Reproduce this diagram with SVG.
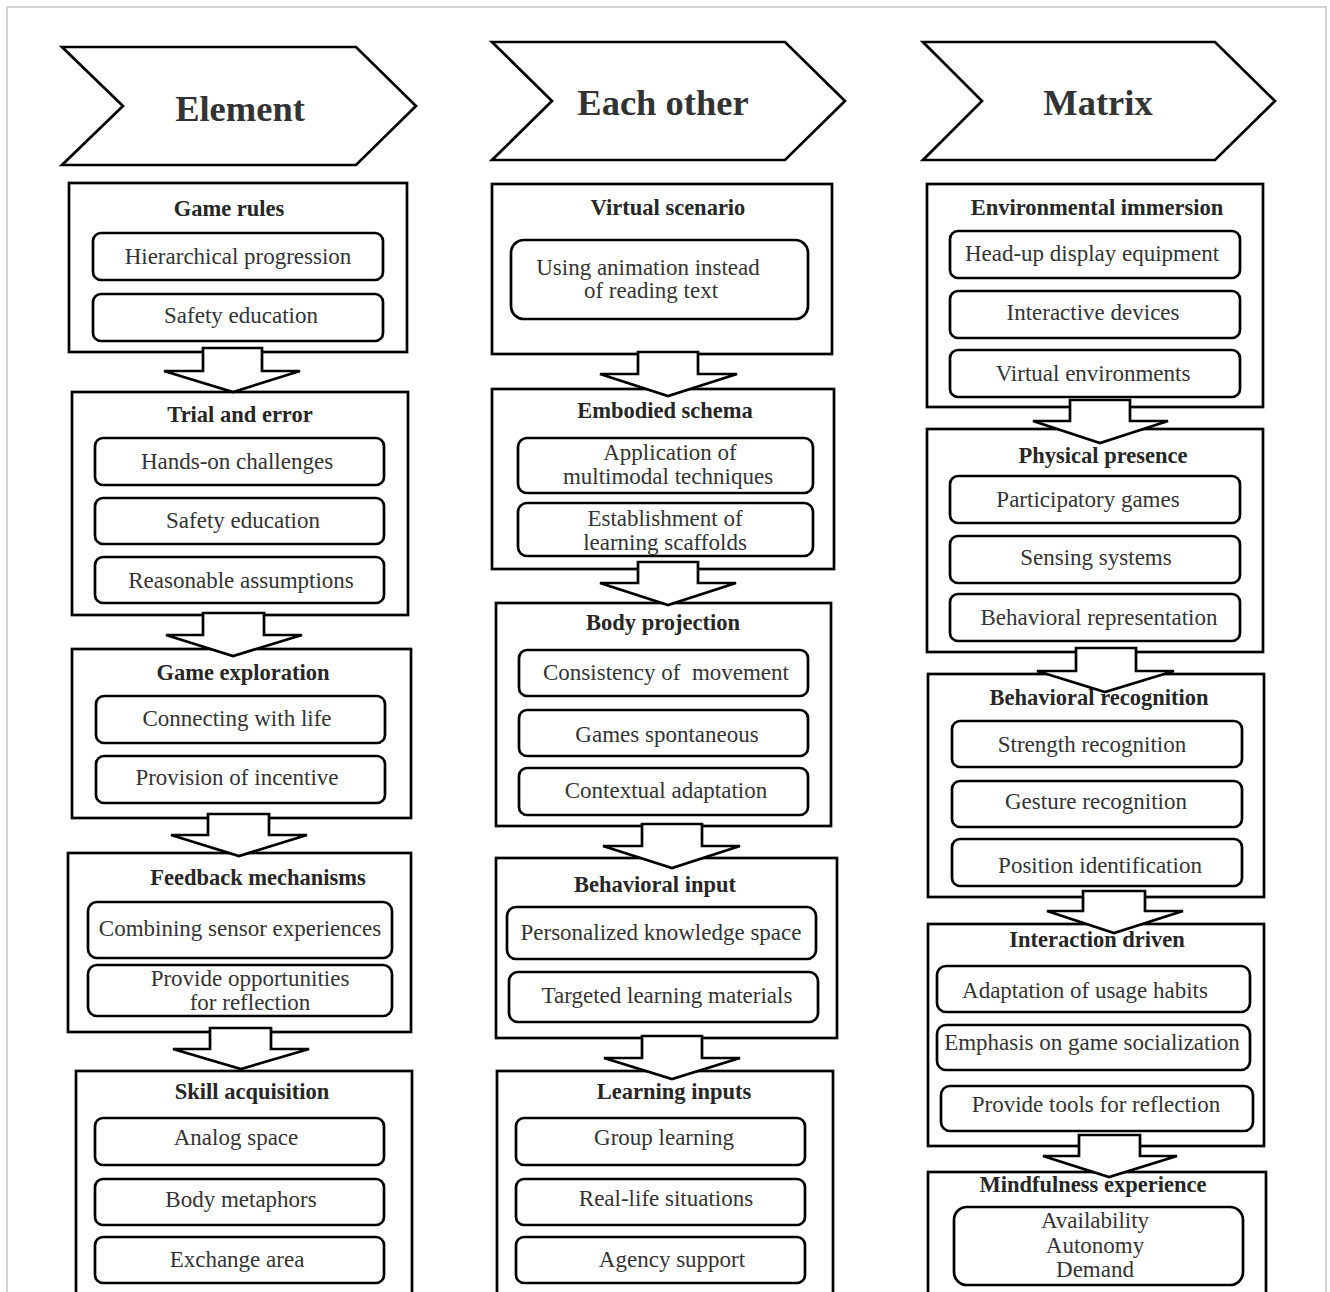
<svg xmlns="http://www.w3.org/2000/svg" width="1330" height="1292" viewBox="0 0 1330 1292">
<style>
.bg{fill:#fff}
.border{fill:none;stroke:#c4c4c4;stroke-width:1.5}
.chev{fill:#fff;stroke:#000;stroke-width:2.7;stroke-linejoin:miter}
.frame{fill:#fff;stroke:#000;stroke-width:2.7}
.item{fill:#fff;stroke:#000;stroke-width:2.7}
.arrow{fill:#fff;stroke:#000;stroke-width:2.7;stroke-linejoin:miter}
.hdr{font-family:"Liberation Serif","Times New Roman",serif;font-weight:bold;font-size:36.5px;fill:#333;text-anchor:middle}
.ttl{font-family:"Liberation Serif","Times New Roman",serif;font-weight:bold;font-size:22.5px;fill:#262626;text-anchor:middle}
.txt{font-family:"Liberation Serif","Times New Roman",serif;font-size:23px;fill:#333;text-anchor:middle}
</style>
<rect class="bg" x="0" y="0" width="1330" height="1292"/>
<rect class="border" x="7" y="7" width="1319" height="1300"/>

<g id="header-element">
<polygon class="chev" points="62,47 356,47 416,106 356,165 62,165 123,106"/>
<text class="hdr" x="240" y="121">Element</text>
</g>
<g id="header-each-other">
<polygon class="chev" points="492,42 785,42 845,101 785,160 492,160 552,101"/>
<text class="hdr" x="663" y="115">Each other</text>
</g>
<g id="header-matrix">
<polygon class="chev" points="923,42 1215,42 1275,101 1215,160 923,160 982,101"/>
<text class="hdr" x="1098" y="115">Matrix</text>
</g>

<!-- Column 1 -->
<g id="game-rules">
<rect class="frame" x="69" y="183" width="338" height="169"/>
<text class="ttl" x="229" y="216">Game rules</text>
<rect class="item" x="93" y="233" width="290" height="47" rx="8"/>
<text class="txt" x="238" y="264">Hierarchical progression</text>
<rect class="item" x="93" y="294" width="290" height="47" rx="8"/>
<text class="txt" x="241" y="323">Safety education</text>
</g>
<g id="trial-and-error">
<rect class="frame" x="72" y="392" width="336" height="223"/>
<text class="ttl" x="240" y="422">Trial and error</text>
<rect class="item" x="95" y="438" width="289" height="47" rx="8"/>
<text class="txt" x="237" y="469">Hands-on challenges</text>
<rect class="item" x="95" y="498" width="289" height="46" rx="8"/>
<text class="txt" x="243" y="528">Safety education</text>
<rect class="item" x="95" y="557" width="289" height="46" rx="8"/>
<text class="txt" x="241" y="588">Reasonable assumptions</text>
</g>
<g id="game-exploration">
<rect class="frame" x="72" y="649" width="339" height="169"/>
<text class="ttl" x="243" y="680">Game exploration</text>
<rect class="item" x="96" y="696" width="289" height="47" rx="8"/>
<text class="txt" x="237" y="726">Connecting with life</text>
<rect class="item" x="96" y="756" width="289" height="47" rx="8"/>
<text class="txt" x="237" y="785">Provision of incentive</text>
</g>
<g id="feedback-mechanisms">
<rect class="frame" x="68" y="853" width="343" height="179"/>
<text class="ttl" x="258" y="885">Feedback mechanisms</text>
<rect class="item" x="88" y="902" width="304" height="56" rx="9"/>
<text class="txt" x="240" y="936">Combining sensor experiences</text>
<rect class="item" x="88" y="965" width="304" height="51" rx="9"/>
<text class="txt" x="250" y="986">Provide opportunities</text>
<text class="txt" x="250" y="1010">for reflection</text>
</g>
<g id="skill-acquisition">
<rect class="frame" x="76" y="1071" width="336" height="235"/>
<text class="ttl" x="252" y="1099">Skill acquisition</text>
<rect class="item" x="95" y="1118" width="289" height="47" rx="8"/>
<text class="txt" x="236" y="1145">Analog space</text>
<rect class="item" x="95" y="1179" width="289" height="46" rx="8"/>
<text class="txt" x="241" y="1207">Body metaphors</text>
<rect class="item" x="95" y="1237" width="289" height="46" rx="8"/>
<text class="txt" x="237" y="1267">Exchange area</text>
</g>

<!-- Column 2 -->
<g id="virtual-scenario">
<rect class="frame" x="492" y="184" width="340" height="170"/>
<text class="ttl" x="668" y="215">Virtual scenario</text>
<rect class="item" x="511" y="240" width="297" height="79" rx="13"/>
<text class="txt" x="648" y="275">Using animation instead</text>
<text class="txt" x="651" y="298">of reading text</text>
</g>
<g id="embodied-schema">
<rect class="frame" x="492" y="389" width="342" height="180"/>
<text class="ttl" x="665" y="418">Embodied schema</text>
<rect class="item" x="518" y="438" width="295" height="55" rx="9"/>
<text class="txt" x="670" y="460">Application of</text>
<text class="txt" x="668" y="484">multimodal techniques</text>
<rect class="item" x="518" y="503" width="295" height="53" rx="9"/>
<text class="txt" x="665" y="526">Establishment of</text>
<text class="txt" x="665" y="550">learning scaffolds</text>
</g>
<g id="body-projection">
<rect class="frame" x="496" y="603" width="335" height="223"/>
<text class="ttl" x="663" y="630">Body projection</text>
<rect class="item" x="519" y="650" width="289" height="46" rx="8"/>
<text class="txt" x="666" y="680" xml:space="preserve">Consistency of  movement</text>
<rect class="item" x="519" y="710" width="289" height="46" rx="8"/>
<text class="txt" x="667" y="742">Games spontaneous</text>
<rect class="item" x="519" y="768" width="289" height="47" rx="8"/>
<text class="txt" x="666" y="798">Contextual adaptation</text>
</g>
<g id="behavioral-input">
<rect class="frame" x="496" y="858" width="341" height="180"/>
<text class="ttl" x="655" y="892">Behavioral input</text>
<rect class="item" x="507" y="907" width="309" height="52" rx="9"/>
<text class="txt" x="661" y="940">Personalized knowledge space</text>
<rect class="item" x="509" y="972" width="309" height="50" rx="9"/>
<text class="txt" x="667" y="1003">Targeted learning materials</text>
</g>
<g id="learning-inputs">
<rect class="frame" x="497" y="1071" width="336" height="235"/>
<text class="ttl" x="674" y="1099">Learning inputs</text>
<rect class="item" x="516" y="1118" width="289" height="47" rx="8"/>
<text class="txt" x="664" y="1145">Group learning</text>
<rect class="item" x="516" y="1179" width="289" height="46" rx="8"/>
<text class="txt" x="666" y="1206">Real-life situations</text>
<rect class="item" x="516" y="1237" width="289" height="46" rx="8"/>
<text class="txt" x="672" y="1267">Agency support</text>
</g>

<!-- Column 3 -->
<g id="environmental-immersion">
<rect class="frame" x="927" y="184" width="336" height="223"/>
<text class="ttl" x="1097" y="215">Environmental immersion</text>
<rect class="item" x="950" y="231" width="290" height="47" rx="8"/>
<text class="txt" x="1092" y="261">Head-up display equipment</text>
<rect class="item" x="950" y="291" width="290" height="47" rx="8"/>
<text class="txt" x="1093" y="320">Interactive devices</text>
<rect class="item" x="950" y="350" width="290" height="47" rx="8"/>
<text class="txt" x="1093" y="381">Virtual environments</text>
</g>
<g id="physical-presence">
<rect class="frame" x="927" y="429" width="336" height="223"/>
<text class="ttl" x="1103" y="463">Physical presence</text>
<rect class="item" x="950" y="476" width="290" height="47" rx="8"/>
<text class="txt" x="1088" y="507">Participatory games</text>
<rect class="item" x="950" y="536" width="290" height="47" rx="8"/>
<text class="txt" x="1096" y="565">Sensing systems</text>
<rect class="item" x="950" y="594" width="290" height="47" rx="8"/>
<text class="txt" x="1099" y="625">Behavioral representation</text>
</g>
<g id="behavioral-recognition">
<rect class="frame" x="928" y="674" width="336" height="223"/>
<text class="ttl" x="1099" y="705">Behavioral recognition</text>
<rect class="item" x="952" y="721" width="290" height="46" rx="8"/>
<text class="txt" x="1092" y="752">Strength recognition</text>
<rect class="item" x="952" y="781" width="290" height="46" rx="8"/>
<text class="txt" x="1096" y="809">Gesture recognition</text>
<rect class="item" x="952" y="839" width="290" height="47" rx="8"/>
<text class="txt" x="1100" y="873">Position identification</text>
</g>
<g id="interaction-driven">
<rect class="frame" x="928" y="924" width="336" height="222"/>
<text class="ttl" x="1097" y="947">Interaction driven</text>
<rect class="item" x="937" y="966" width="313" height="46" rx="9"/>
<text class="txt" x="1085" y="998">Adaptation of usage habits</text>
<rect class="item" x="937" y="1025" width="313" height="45" rx="9"/>
<text class="txt" x="1092" y="1050">Emphasis on game socialization</text>
<rect class="item" x="941" y="1086" width="312" height="45" rx="9"/>
<text class="txt" x="1096" y="1112">Provide tools for reflection</text>
</g>
<g id="mindfulness-experience">
<rect class="frame" x="928" y="1172" width="338" height="134"/>
<text class="ttl" x="1093" y="1192">Mindfulness experience</text>
<rect class="item" x="954" y="1207" width="289" height="78" rx="13"/>
<text class="txt" x="1095" y="1228">Availability</text>
<text class="txt" x="1095" y="1253">Autonomy</text>
<text class="txt" x="1095" y="1277">Demand</text>
</g>

<g id="connectors">
<polygon class="arrow" points="203,348 262,348 262,371 300,371 233,392 164,371 203,371"/>
<polygon class="arrow" points="203,613 264,613 264,635 302,635 233,656 166,635 203,635"/>
<polygon class="arrow" points="208,814 269,814 269,835 307,835 239,856 171,835 208,835"/>
<polygon class="arrow" points="210,1028 271,1028 271,1049 309,1049 241,1069 173,1049 210,1049"/>

<polygon class="arrow" points="638,352 698,352 698,374 737,374 668,396 600,374 638,374"/>
<polygon class="arrow" points="638,562 698,562 698,583 736,583 668,605 600,583 638,583"/>
<polygon class="arrow" points="642,824 702,824 702,846 740,846 672,868 603,846 642,846"/>
<polygon class="arrow" points="642,1036 702,1036 702,1058 740,1058 672,1079 604,1058 642,1058"/>

<polygon class="arrow" points="1070,400 1130,400 1130,421 1168,421 1100,443 1033,421 1070,421"/>
<polygon class="arrow" points="1076,648 1136,648 1136,671 1174,671 1105,692 1037,671 1076,671"/>
<polygon class="arrow" points="1083,891 1145,891 1145,911 1183,911 1114,933 1047,911 1083,911"/>
<polygon class="arrow" points="1079,1135 1140,1135 1140,1156 1177,1156 1109,1177 1043,1156 1079,1156"/>
</g>
</svg>
